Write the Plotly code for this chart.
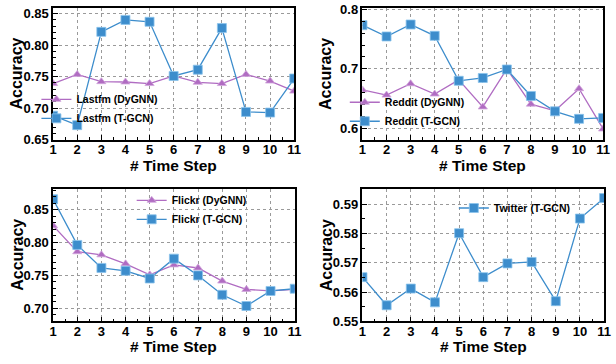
import plotly.graph_objects as go

steps = [1, 2, 3, 4, 5, 6, 7, 8, 9, 10, 11]

lastfm_dygnn = [0.739, 0.7535, 0.742, 0.7415, 0.739, 0.751, 0.741, 0.739, 0.7535, 0.743, 0.727]
lastfm_tgcn = [0.688, 0.673, 0.821, 0.840, 0.837, 0.751, 0.761, 0.827, 0.694, 0.693, 0.747]

reddit_dygnn = [0.6646, 0.656, 0.675, 0.6577, 0.6815, 0.636, 0.700, 0.6407, 0.6296, 0.6667, 0.599]
reddit_tgcn = [0.7735, 0.7545, 0.7746, 0.7556, 0.680, 0.6847, 0.699, 0.6545, 0.6286, 0.616, 0.6175]

flickr_dygnn = [0.8256, 0.786, 0.7813, 0.7676, 0.751, 0.766, 0.7613, 0.7414, 0.7287, 0.7263, 0.7287]
flickr_tgcn = [0.866, 0.7964, 0.7614, 0.757, 0.7453, 0.7755, 0.750, 0.7205, 0.7034, 0.7263, 0.7297]

twitter_tgcn = [0.5651, 0.5555, 0.5612, 0.5565, 0.5801, 0.5651, 0.5698, 0.5703, 0.5569, 0.5851, 0.5921]

PURPLE = "#b06cc2"
BLUE = "#3d8dcc"
FONT = "Liberation Sans, Arial, sans-serif"

W, H = 616, 364

def px_dom_x(a, b):
    return [a / W, b / W]

def px_dom_y(top, bottom):
    return [1 - bottom / H, 1 - top / H]

panels = [
    # (xaxis name, yaxis name, xdomain px, ydomain px, yrange, dtick, minor dtick, fmt)
    ("x", "y", (50, 295.5), (2, 139), [0.65, 0.859], 0.05, 0.01, ".2f"),
    ("x2", "y2", (365, 610), (2, 139), [0.581, 0.8025], 0.1, 0.02, ".1f"),
    ("x3", "y3", (50, 296), (190, 328), [0.68, 0.882], 0.05, 0.01, ".2f"),
    ("x4", "y4", (365, 611), (190, 328), [0.55, 0.5953], 0.01, 0.005, ".2f"),
]

fig = go.Figure()

def dygnn(x, y, name, xa, ya, legend):
    return go.Scatter(x=x, y=y, name=name, xaxis=xa, yaxis=ya, legend=legend,
                      mode="lines+markers",
                      line=dict(color=PURPLE, width=1.3),
                      marker=dict(symbol="triangle-up", size=8, color=PURPLE,
                                  line=dict(color="#d2a6dc", width=0.8)))

def tgcn(x, y, name, xa, ya, legend):
    return go.Scatter(x=x, y=y, name=name, xaxis=xa, yaxis=ya, legend=legend,
                      mode="lines+markers",
                      line=dict(color=BLUE, width=1.3),
                      marker=dict(symbol="square", size=9, color=BLUE,
                                  line=dict(color="#8cc4ec", width=0.8)))

fig.add_trace(dygnn(steps, lastfm_dygnn, "Lastfm (DyGNN)", "x", "y", "legend"))
fig.add_trace(tgcn(steps, lastfm_tgcn, "Lastfm (T-GCN)", "x", "y", "legend"))
fig.add_trace(dygnn(steps, reddit_dygnn, "Reddit (DyGNN)", "x2", "y2", "legend2"))
fig.add_trace(tgcn(steps, reddit_tgcn, "Reddit (T-GCN)", "x2", "y2", "legend2"))
fig.add_trace(dygnn(steps, flickr_dygnn, "Flickr (DyGNN)", "x3", "y3", "legend3"))
fig.add_trace(tgcn(steps, flickr_tgcn, "Flickr (T-GCN)", "x3", "y3", "legend3"))
fig.add_trace(tgcn(steps, twitter_tgcn, "Twitter (T-GCN)", "x4", "y4", "legend4"))

layout = dict(
    width=W, height=H,
    margin=dict(l=0, r=0, t=0, b=0),
    paper_bgcolor="white", plot_bgcolor="white",
    font=dict(family=FONT, color="black"),
    showlegend=True,
)

tickfont = dict(family=FONT, size=13, color="black", weight="bold")
annotations = []
for i, (xa, ya, xd, yd, yr, dt, mdt, fmt) in enumerate(panels):
    xkey = "xaxis" if xa == "x" else "xaxis" + xa[1:]
    ykey = "yaxis" if ya == "y" else "yaxis" + ya[1:]
    layout[xkey] = dict(
        domain=px_dom_x(*xd), anchor=ya, range=[1, 11],
        tickmode="array", tickvals=steps, ticktext=[str(s) for s in steps],
        ticks="inside", ticklen=5, tickwidth=1.2, tickcolor="black",
        minor=dict(ticks="inside", ticklen=3, tickvals=[s + 0.5 for s in steps[:-1]],
                   tickcolor="black", showgrid=False),
        showgrid=True, gridcolor="#9a9a9a", griddash="dot", gridwidth=1,
        showline=True, linecolor="black", linewidth=1.5, mirror=True,
        zeroline=False, tickfont=tickfont, ticklabeloverflow="allow",
        ticklabelstandoff=-3,
    )
    layout[ykey] = dict(
        domain=px_dom_y(*yd), anchor=xa, range=yr,
        dtick=dt, tick0=0, tickformat=fmt,
        ticks="inside", ticklen=5, tickwidth=1.2, tickcolor="black",
        minor=dict(ticks="inside", ticklen=3, dtick=mdt, tick0=0,
                   tickcolor="black", showgrid=False),
        showgrid=True, gridcolor="#9a9a9a", griddash="dot", gridwidth=1,
        showline=True, linecolor="black", linewidth=1.5, mirror=True,
        zeroline=False, tickfont=tickfont, ticklabeloverflow="allow",
    )
    xc = (xd[0] + xd[1]) / 2
    yc = (yd[0] + yd[1]) / 2
    annotations.append(dict(text="<b># Time Step</b>", x=xc / W, y=1 - (yd[1] + 26.5) / H,
                            xref="paper", yref="paper", showarrow=False,
                            xanchor="center", yanchor="middle",
                            font=dict(family=FONT, size=15.5, color="black")))
    annotations.append(dict(text="<b>Accuracy</b>", x=(xd[0] - 37) / W, y=1 - yc / H,
                            xref="paper", yref="paper", showarrow=False, textangle=-90,
                            xanchor="center", yanchor="middle",
                            font=dict(family=FONT, size=16, color="black")))

layout["annotations"] = annotations

legfont = dict(family=FONT, size=10.5, color="black", weight="bold")
def leg(xpx, ypx):
    return dict(x=xpx / W, y=1 - ypx / H, xanchor="left", yanchor="top",
                bgcolor="rgba(0,0,0,0)", font=legfont, itemwidth=30,
                tracegroupgap=0)

layout["legend"] = leg(33, 82)
layout["legend2"] = leg(347, 85)
layout["legend3"] = leg(130, 187)
layout["legend4"] = leg(458, 195)

fig.update_layout(**layout)
fig.write_html("out.html",
               config={"displayModeBar": False},
               post_script="document.body.style.margin='0';document.body.style.overflow='hidden';")
